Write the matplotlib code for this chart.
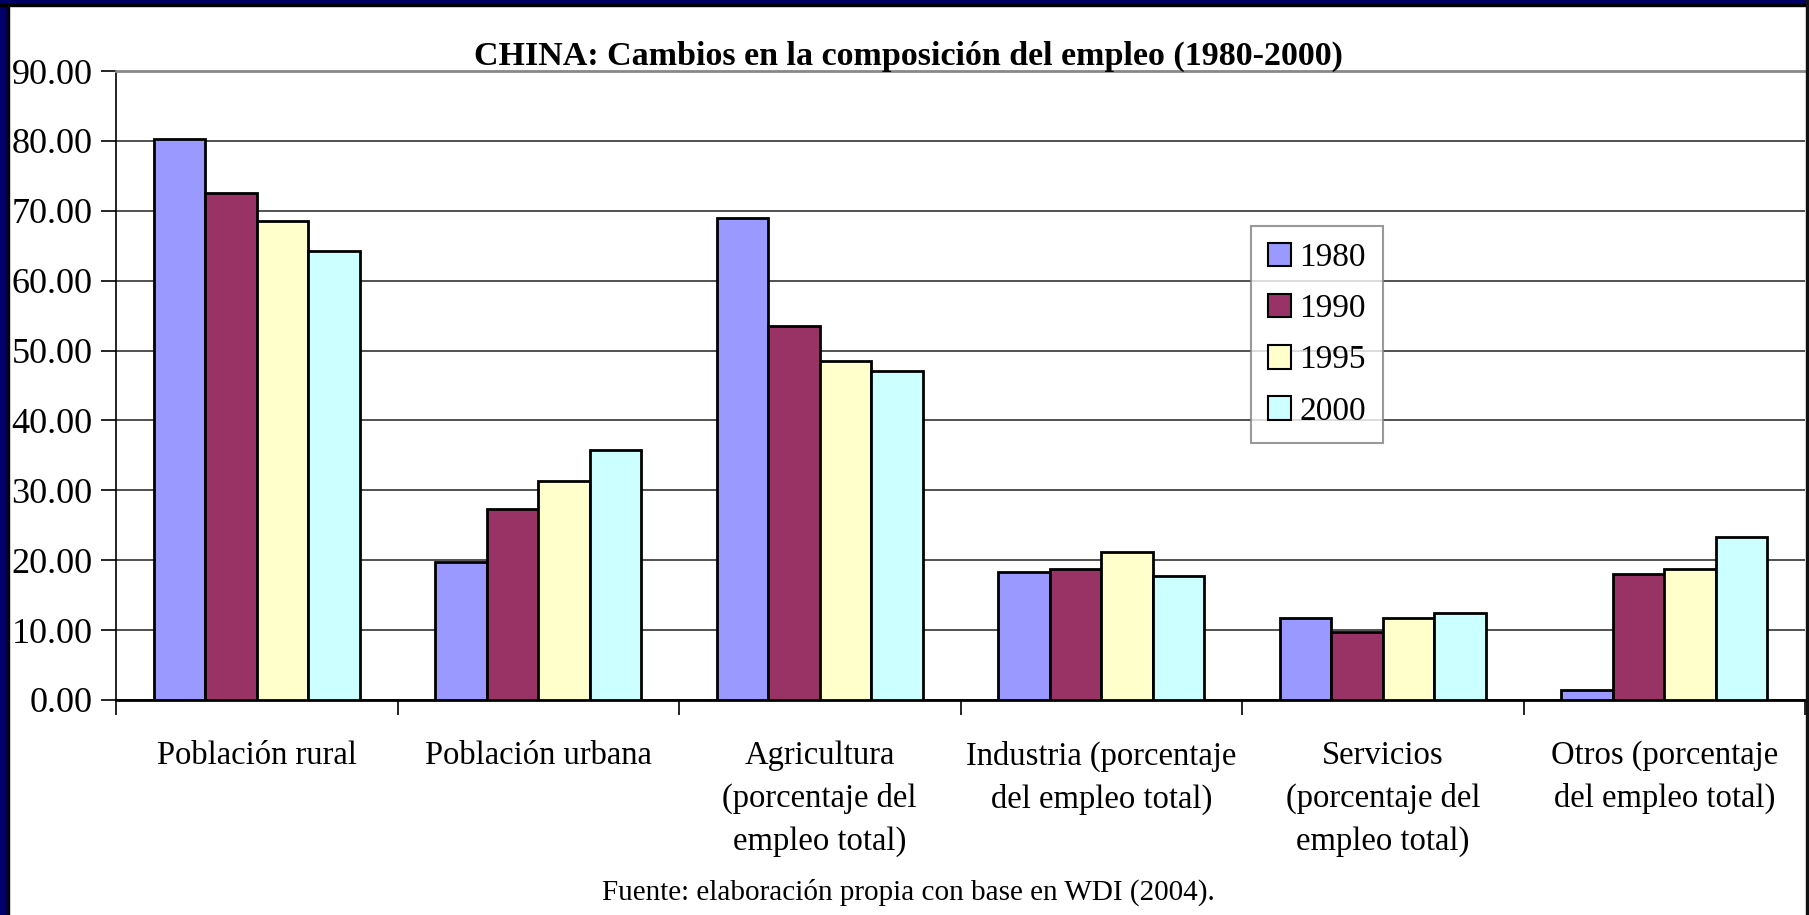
"""
CHINA: cambios en la composicion del empleo (1980-2000).
Grouped bar chart, Excel-style slide look.
"""

import numpy as np
import matplotlib.pyplot as plt
from matplotlib.patches import Rectangle

categories = [
    "Población rural",
    "Población urbana",
    "Agricultura\n(porcentaje del\nempleo total)",
    "Industria (porcentaje\ndel empleo total)",
    "Servicios\n(porcentaje del\nempleo total)",
    "Otros (porcentaje\ndel empleo total)",
]
years = ["1980", "1990", "1995", "2000"]

v1980 = [80.3, 19.7, 68.9, 18.3, 11.8, 1.5]
v1990 = [72.6, 27.4, 53.5, 18.8, 9.7, 18.1]
v1995 = [68.6, 31.4, 48.5, 21.2, 11.8, 18.7]
v2000 = [64.3, 35.7, 47.1, 17.8, 12.4, 23.3]

colors = ["#9999FF", "#993366", "#FFFFCC", "#CCFFFF"]

plt.rcParams["font.family"] = ["Liberation Serif", "DejaVu Serif"]

W, H = 1809, 915
fig = plt.figure(figsize=(W / 100, H / 100), dpi=100)
fig.patch.set_facecolor("white")

# slide frame: navy strips on the left and top, thin dark lines
fig.patches.append(Rectangle((0, 0), 7 / W, 1, transform=fig.transFigure,
                             color="#000066", zorder=0))
fig.patches.append(Rectangle((0, 1 - 4 / H), 1, 4 / H, transform=fig.transFigure,
                             color="#000066", zorder=0))
fig.patches.append(Rectangle((7 / W, 0), 2 / W, 1 - 4 / H, transform=fig.transFigure,
                             color="black", zorder=0))
fig.patches.append(Rectangle((0, 1 - 6 / H), 1, 2 / H, transform=fig.transFigure,
                             color="black", zorder=0))
fig.patches.append(Rectangle((1 - 3 / W, 0), 3 / W, 1, transform=fig.transFigure,
                             color="#111111", zorder=0))

ax = fig.add_axes([116 / W, 1 - 700 / H, (1805 - 116) / W, (700 - 71) / H])

x = np.arange(len(categories))
bw = 0.183
series = [v1980, v1990, v1995, v2000]
for i, (vals, yr, c) in enumerate(zip(series, years, colors)):
    ax.bar(x + (i - 1.5) * bw, vals, width=bw, color=c, edgecolor="black",
           linewidth=2, label=yr, zorder=3)

ax.set_xlim(-0.5, len(categories) - 0.5)
ax.set_ylim(0, 90)
ax.set_yticks(np.arange(0, 91, 10))
ax.set_yticklabels([f"{v:.2f}" for v in np.arange(0, 91, 10)], fontsize=26)
ax.yaxis.grid(True, color="#333333", linewidth=1.2, zorder=0)

# category boundaries as major ticks, names as minor tick labels
ax.set_xticks(np.arange(-0.5, len(categories), 1))
ax.set_xticklabels([])
ax.set_xticks(x, minor=True)
ax.set_xticklabels(categories, minor=True, fontsize=23.5, linespacing=1.5)
ax.tick_params(axis="x", which="major", direction="out", length=11, width=1.2)
ax.tick_params(axis="x", which="minor", length=0, pad=29)
ax.tick_params(axis="y", direction="out", length=11, width=1.2, pad=6)

ax.spines["right"].set_visible(False)
ax.spines["top"].set_color("#888888")
ax.spines["top"].set_linewidth(2)
ax.spines["left"].set_linewidth(1.2)
ax.spines["bottom"].set_linewidth(2)

leg = ax.legend(loc="upper left", bbox_to_anchor=(1251 / W, 1 - 226 / H),
                bbox_transform=fig.transFigure, fontsize=24, frameon=True,
                fancybox=False, edgecolor="#808080", handlelength=0.7,
                handleheight=0.7, handletextpad=0.25, labelspacing=0.62,
                borderpad=0.5, borderaxespad=0)
leg.get_frame().set_linewidth(1.5)
for h in leg.legend_handles:
    h.set_linewidth(1.5)

fig.text(0.502, 1 - 56 / H,
         "CHINA: Cambios en la composición del empleo (1980-2000)",
         ha="center", va="center", fontsize=24.5, fontweight="bold")
fig.text(0.502, 1 - 892 / H,
         "Fuente: elaboración propia con base en WDI (2004).",
         ha="center", va="center", fontsize=21)

fig.savefig("out.png", dpi=100)
